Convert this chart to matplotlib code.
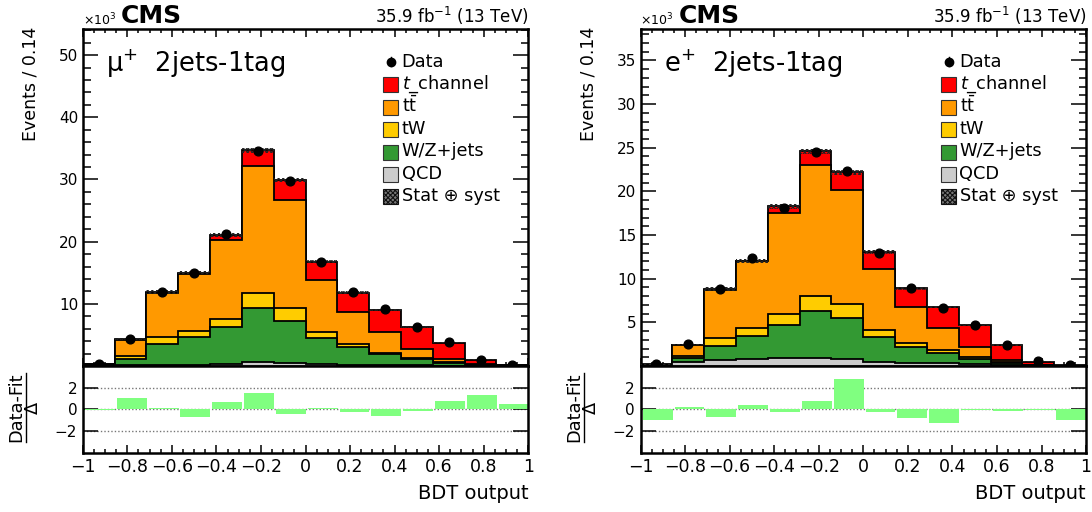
import numpy as np
import matplotlib
matplotlib.use('Agg')
import matplotlib.pyplot as plt
from matplotlib.patches import Rectangle
from matplotlib.lines import Line2D
from matplotlib.ticker import MultipleLocator, FixedLocator

plt.rcParams['font.family'] = ['DejaVu Sans']
plt.rcParams['mathtext.fontset'] = 'dejavusans'
plt.rcParams['hatch.linewidth'] = 0.8

W, H = 1092, 512

# ---------------- data (units of 10^3 events) ----------------
bin_edges = np.linspace(-1, 1, 15)   # 14 bins, width 0.14

# mu+ 2jets-1tag
mu_qcd  = [0.02, 0.10, 0.15, 0.20, 0.30, 0.60, 0.50, 0.40, 0.20, 0.15, 0.10, 0.05, 0.02, 0.01]
mu_wz   = [0.08, 1.10, 3.45, 4.40, 5.90, 8.80, 6.80, 4.15, 2.80, 1.75, 1.00, 0.45, 0.13, 0.04]
mu_tw   = [0.05, 0.40, 1.00, 1.00, 1.30, 2.40, 2.10, 0.95, 0.50, 0.20, 0.20, 0.10, 0.05, 0.02]
mu_tt   = [0.10, 2.60, 7.10, 9.20, 12.80, 20.40, 17.30, 8.40, 5.20, 3.40, 1.40, 0.50, 0.10, 0.03]
mu_tch  = [0.05, 0.10, 0.20, 0.20, 0.80, 2.50, 3.20, 2.90, 3.10, 3.50, 3.60, 2.65, 0.70, 0.10]
mu_unc  = [0.03, 0.15, 0.25, 0.25, 0.30, 0.40, 0.35, 0.28, 0.22, 0.20, 0.16, 0.12, 0.05, 0.02]
mu_data = [0.27, 4.35, 11.95, 15.00, 21.25, 34.65, 29.80, 16.80, 11.85, 9.10, 6.27, 3.80, 1.00, 0.20]
mu_pull = [-0.05, 1.05, 0.10, -0.75, 0.70, 1.50, -0.40, 0.10, -0.30, -0.60, -0.20, 0.80, 1.35, 0.50]

# e+ 2jets-1tag
e_qcd  = [0.05, 0.50, 0.70, 0.80, 0.90, 0.95, 0.80, 0.50, 0.40, 0.30, 0.20, 0.10, 0.03, 0.01]
e_wz   = [0.03, 0.37, 1.60, 2.65, 3.80, 5.38, 4.65, 2.83, 1.80, 1.14, 0.60, 0.25, 0.05, 0.01]
e_tw   = [0.02, 0.27, 0.90, 0.95, 1.30, 1.67, 1.60, 0.77, 0.40, 0.36, 0.20, 0.10, 0.02, 0.01]
e_tt   = [0.05, 1.26, 5.55, 7.60, 11.50, 15.00, 13.15, 6.96, 4.20, 2.56, 1.20, 0.23, 0.05, 0.02]
e_tch  = [0.05, 0.06, 0.05, 0.05, 0.80, 1.60, 2.00, 2.04, 2.10, 2.39, 2.46, 1.72, 0.35, 0.05]
e_unc  = [0.03, 0.10, 0.20, 0.22, 0.26, 0.30, 0.28, 0.22, 0.18, 0.15, 0.12, 0.08, 0.04, 0.02]
e_data = [0.20, 2.50, 8.80, 12.35, 18.10, 24.50, 22.35, 13.00, 8.94, 6.67, 4.66, 2.40, 0.57, 0.10]
e_pull = [-0.95, 0.20, -0.70, 0.40, -0.30, 0.75, 2.80, -0.25, -0.80, -1.25, -0.05, -0.20, -0.05, -0.95]

proc_labels = ['QCD', 'W/Z+jets', 'tW', r'$\mathrm{t\bar{t}}$', r'$t$_channel']
proc_colors = ['#cccccc', '#339933', '#ffcc00', '#ff9900', '#ff0000']

x_ticks = [-1, -0.8, -0.6, -0.4, -0.2, 0, 0.2, 0.4, 0.6, 0.8, 1]
x_ticklabels = ['\u22121', '\u22120.8', '\u22120.6', '\u22120.4', '\u22120.2', '0', '0.2', '0.4', '0.6', '0.8', '1']
pull_ticks = [-2, 0, 2]
pull_ticklabels = ['\u22122', '0', '2']

panels = [
    dict(channel='\u03bc$^{+}$  2jets-1tag', layers=[mu_qcd, mu_wz, mu_tw, mu_tt, mu_tch],
         unc=mu_unc, data=mu_data, pull=mu_pull, ymax=54.2,
         yticks=[10, 20, 30, 40, 50], yminor=2, x0=82.7),
    dict(channel='e$^{+}$  2jets-1tag', layers=[e_qcd, e_wz, e_tw, e_tt, e_tch],
         unc=e_unc, data=e_data, pull=e_pull, ymax=38.6,
         yticks=[5, 10, 15, 20, 25, 30, 35], yminor=1, x0=640.5),
]

# ---------------- figure ----------------
fig = plt.figure(figsize=(W / 100, H / 100), dpi=100)

def fx(px):
    return px / W

def fy(py):
    return 1 - py / H

AX_W = 445.6
TOP, MID, BOT = 29.0, 366.0, 452.5

centers = 0.5 * (bin_edges[1:] + bin_edges[:-1])
bw = bin_edges[1] - bin_edges[0]

for p in panels:
    x0 = p['x0']
    x1 = x0 + AX_W
    ax = fig.add_axes([fx(x0), fy(MID), AX_W / W, (MID - TOP) / H])
    rax = fig.add_axes([fx(x0), fy(BOT), AX_W / W, (BOT - MID) / H])

    cum = np.cumsum(np.array(p['layers']), axis=0)
    for i in reversed(range(len(cum))):
        ax.stairs(cum[i], bin_edges, baseline=0, fill=True, facecolor=proc_colors[i],
                  edgecolor='none', zorder=2 + (4 - i) * 0.1)
        ax.stairs(cum[i], bin_edges, baseline=0, fill=False, color='black',
                  linewidth=1.3, zorder=2.05 + (4 - i) * 0.1)
    tot = cum[-1]
    unc = np.array(p['unc'])
    ax.stairs(tot + unc, bin_edges, baseline=tot - unc, fill=True, facecolor='none',
              edgecolor='#222222', hatch='xxxxxxx', linewidth=0, zorder=3)
    ax.plot(centers, p['data'], 'o', color='black', markersize=6.3, zorder=4)

    ax.set_xlim(-1, 1)
    ax.set_ylim(0, p['ymax'])
    ax.xaxis.set_major_locator(FixedLocator(x_ticks))
    ax.xaxis.set_minor_locator(MultipleLocator(0.05))
    ax.yaxis.set_minor_locator(MultipleLocator(p['yminor']))
    ax.set_xticklabels([])
    ax.set_yticks(p['yticks'])
    ax.set_yticklabels([str(v) for v in p['yticks']])
    ax.tick_params(which='both', direction='in', top=True, right=True, width=1.1)
    ax.tick_params(axis='y', which='major', length=10.8, labelsize=11, pad=3)
    ax.tick_params(axis='y', which='minor', length=5.4)
    ax.tick_params(axis='x', which='major', length=5.8)
    ax.tick_params(axis='x', which='minor', length=2.9)
    for s in ax.spines.values():
        s.set_linewidth(1.8)

    # ratio panel
    for yv in pull_ticks:
        rax.axhline(yv, color='#777777', linestyle=(0, (1, 1.5)), linewidth=1.0, zorder=1)
    rax.bar(bin_edges[:-1] + 0.07 * bw, p['pull'], width=0.94 * bw, align='edge',
            color='#80ff80', linewidth=0, zorder=2)
    rax.set_xlim(-1, 1)
    rax.set_ylim(-4, 4)
    rax.xaxis.set_minor_locator(MultipleLocator(0.05))
    rax.set_xticks(x_ticks)
    rax.set_xticklabels(x_ticklabels)
    rax.set_yticks(pull_ticks)
    rax.set_yticklabels(pull_ticklabels)
    rax.tick_params(which='both', direction='in', top=False, right=True, width=1.1)
    rax.tick_params(axis='x', which='major', length=5.8, labelsize=12.5, pad=4)
    rax.tick_params(axis='x', which='minor', length=2.9)
    rax.tick_params(axis='y', which='major', length=10.8, labelsize=11, pad=4)
    for s in rax.spines.values():
        s.set_linewidth(1.8)

    # header texts
    fig.text(fx(x0), fy(25), r'$\times10^{3}$', fontsize=9, ha='left', va='baseline')
    fig.text(fx(x0 + 38.5), fy(23.3), 'CMS', fontsize=18, fontweight='bold',
             ha='left', va='baseline')
    fig.text(fx(x1), fy(23.3), r'35.9 fb$^{-1}$ (13 TeV)', fontsize=12,
             ha='right', va='baseline')
    fig.text(fx(x0 + 23.5), fy(72), p['channel'], fontsize=18.5, ha='left', va='baseline')

    # axis titles
    fig.text(fx(x0 - 52), fy(27), 'Events / 0.14', fontsize=12.5, rotation=90,
             ha='center', va='top')
    fig.text(fx(x1), fy(499), 'BDT output', fontsize=14, ha='right', va='baseline')
    fig.text(fx(x0 - 66.5), fy(407), 'Data-Fit', fontsize=12.8, rotation=90,
             ha='center', va='center')
    fig.add_artist(Line2D([fx(x0 - 56.5), fx(x0 - 56.5)], [fy(373), fy(442)],
                          color='black', linewidth=1.0, transform=fig.transFigure))
    fig.text(fx(x0 - 50), fy(408), '\u0394', fontsize=12.8, rotation=90,
             ha='center', va='center')

    # legend (manual)
    lx = x0 + 300.6
    tx = x0 + 319
    base0 = 66.7
    step = 22.4
    fig.add_artist(Line2D([fx(lx + 7.5), fx(lx + 7.5)], [fy(base0 - 9.5), fy(base0 - 0.5)],
                          color='black', linewidth=1.0, transform=fig.transFigure))
    fig.add_artist(Line2D([fx(lx + 7.5)], [fy(base0 - 5)], marker='o', markersize=6,
                          color='black', linestyle='none', transform=fig.transFigure))
    fig.text(fx(tx), fy(base0), 'Data', fontsize=12.8, ha='left', va='baseline')
    order = [4, 3, 2, 1, 0]
    for k, i in enumerate(order):
        b = base0 + (k + 1) * step
        fig.add_artist(Rectangle((fx(lx), fy(b + 3.3)), 15 / W, 15 / H,
                                 facecolor=proc_colors[i], edgecolor='#333333',
                                 linewidth=0.8, transform=fig.transFigure))
        fig.text(fx(tx), fy(b), proc_labels[i], fontsize=12.8, ha='left', va='baseline')
    b = base0 + 6 * step
    fig.add_artist(Rectangle((fx(lx), fy(b + 3.3)), 15 / W, 15 / H,
                             facecolor='#777777', edgecolor='#111111', hatch='xxxxxxx',
                             linewidth=0.8, transform=fig.transFigure))
    fig.text(fx(tx), fy(b), 'Stat \u2295 syst', fontsize=12.8, ha='left', va='baseline')

fig.savefig('out.png', dpi=100)
